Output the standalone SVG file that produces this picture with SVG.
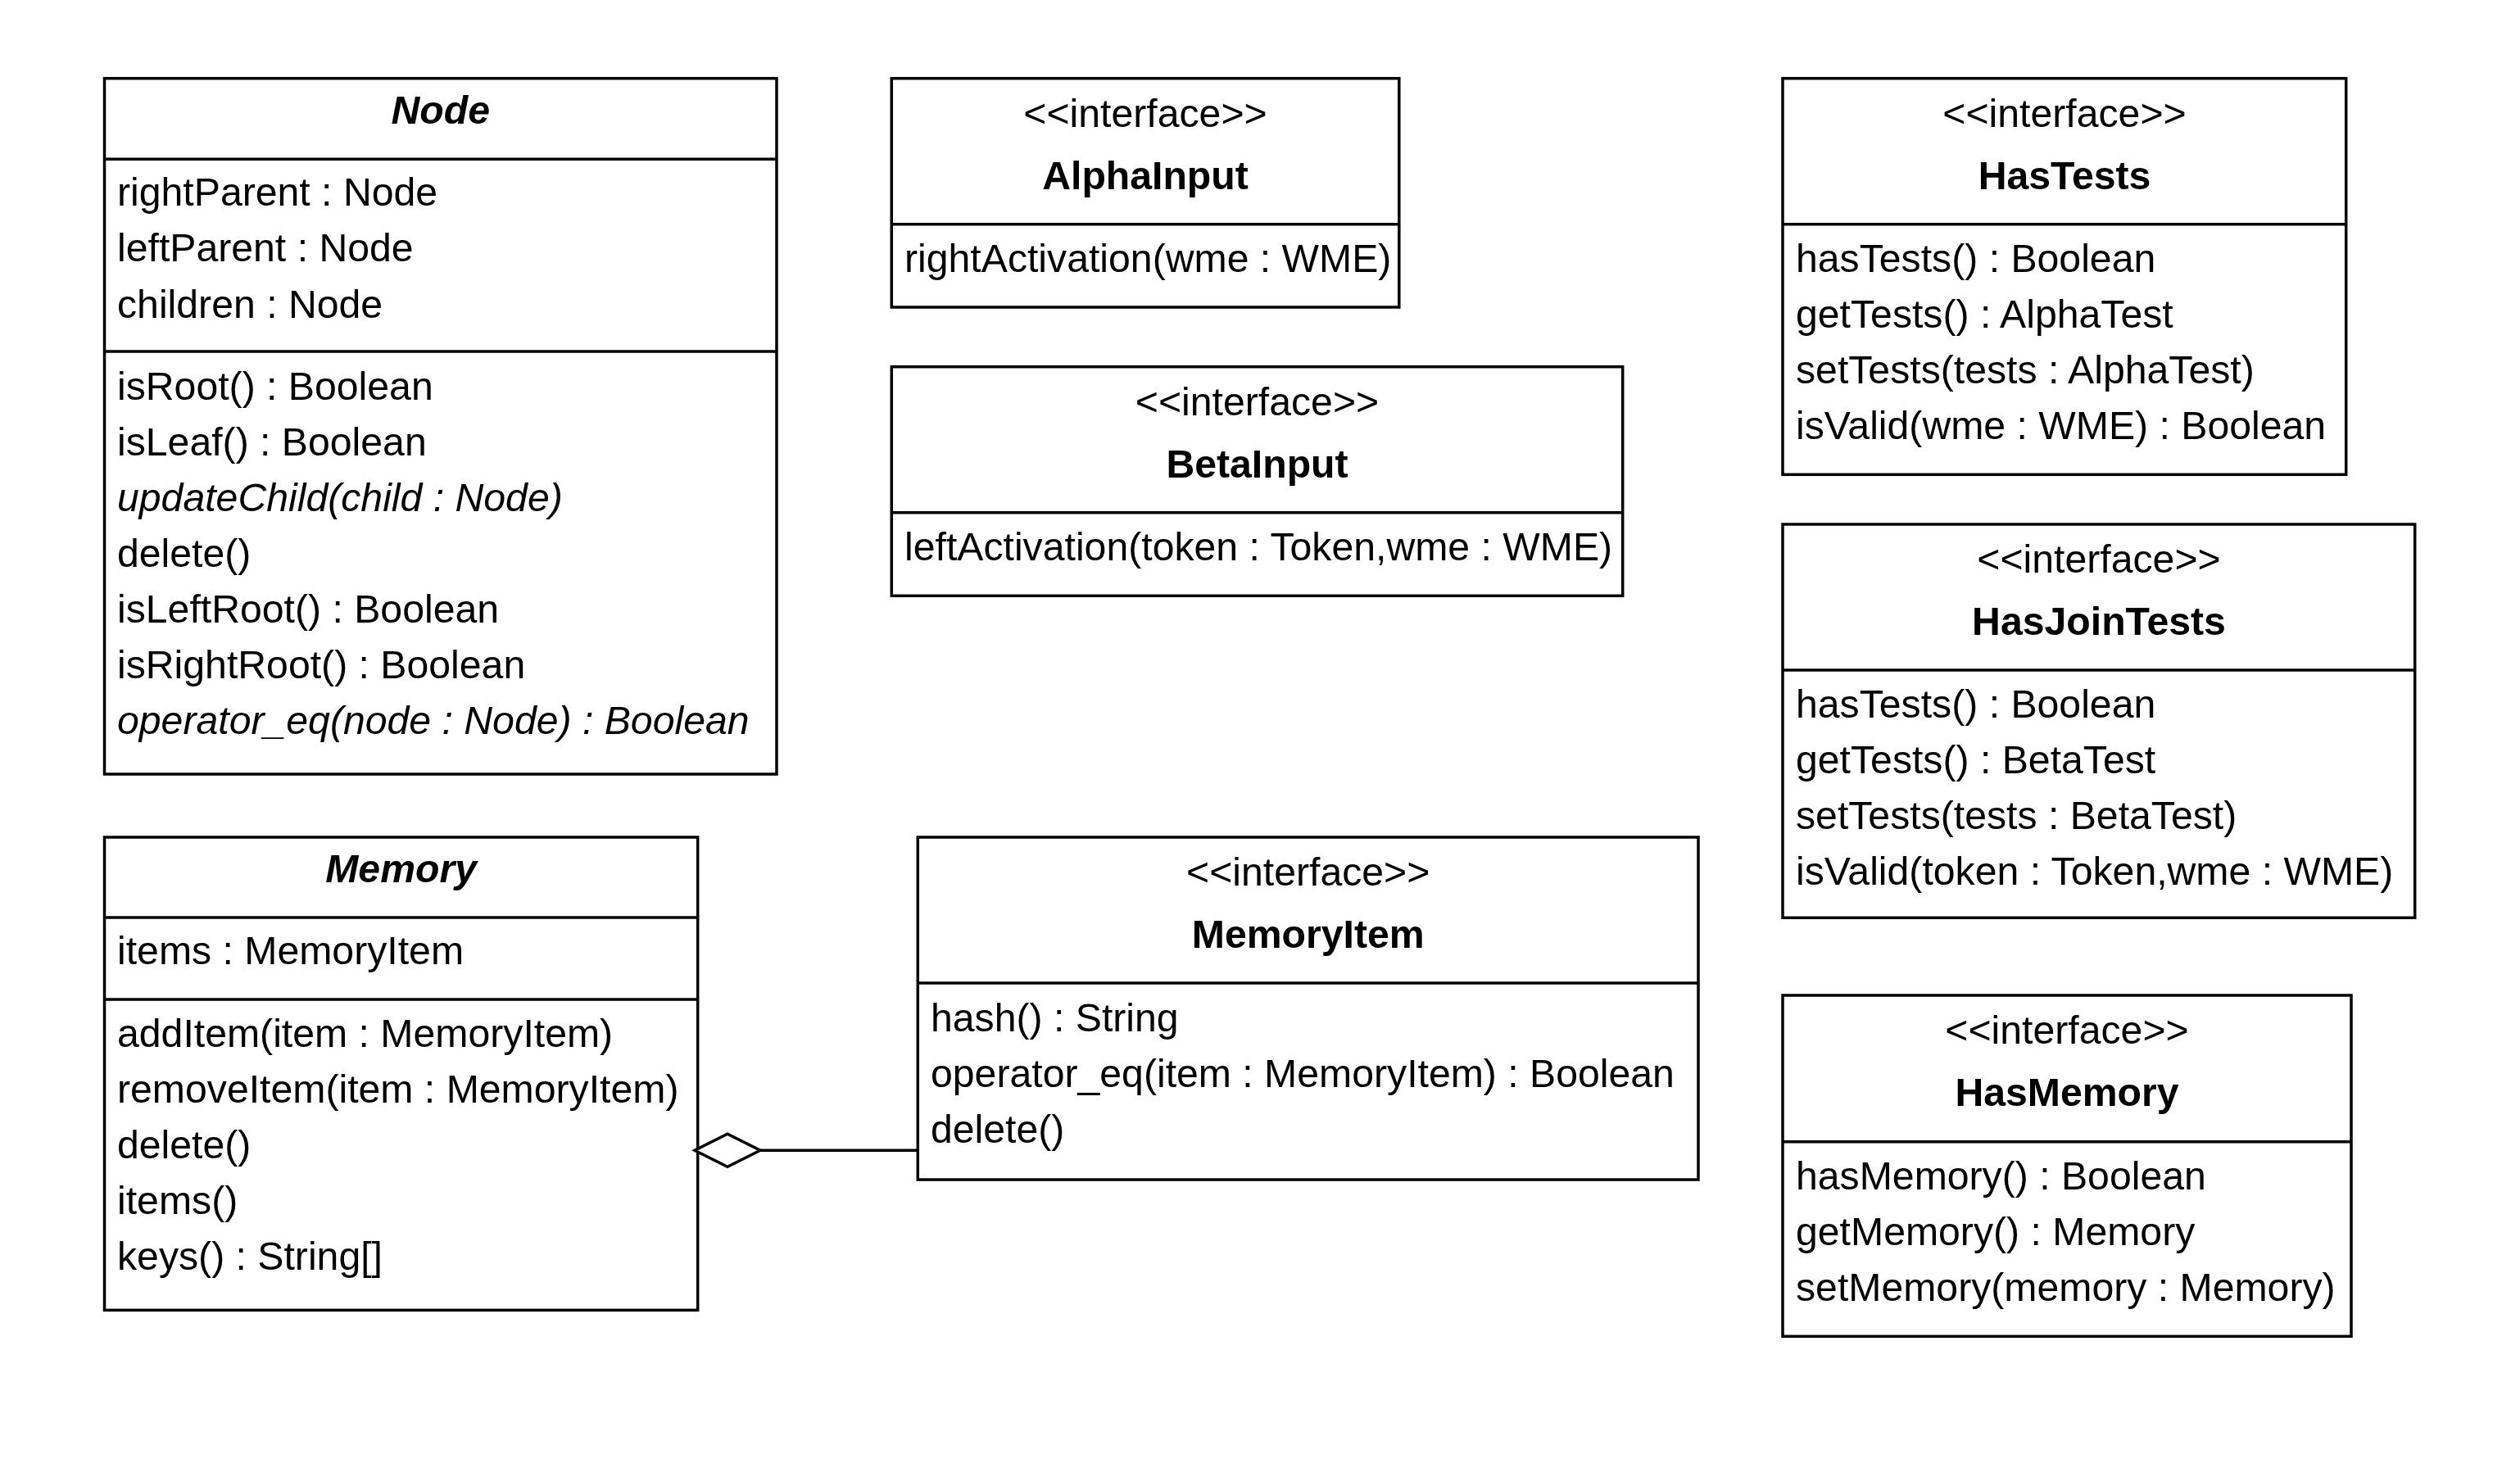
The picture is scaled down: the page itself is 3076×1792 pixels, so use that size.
<svg xmlns="http://www.w3.org/2000/svg" width="3076" height="1792" viewBox="0 0 3076 1792">
<style>
.box{fill:#fff;stroke:#000;stroke-width:3.5}
.sep{stroke:#000;stroke-width:3.5}
.conn{stroke:#000;stroke-width:3.5;fill:none}
text{font-family:"Liberation Sans",Arial,Helvetica,sans-serif;font-size:48.2px;fill:#000}
.c{text-anchor:middle}
.b{font-weight:bold}
.i{font-style:italic}
</style>
<defs>
<marker id="agg" markerUnits="userSpaceOnUse" markerWidth="88" markerHeight="48" viewBox="0 0 88 48" refX="84" refY="24" orient="auto">
<path d="M4,24 L44,4 L84,24 L44,44 Z" fill="#fff" stroke="#000" stroke-width="3.5"/>
</marker>
</defs>
<rect width="3076" height="1792" fill="#fff"/>

<g id="Node">
<rect class="box" x="127.5" y="95.7" width="820.5" height="849.3"/>
<line class="sep" x1="127.5" y1="194.3" x2="948" y2="194.3"/>
<line class="sep" x1="127.5" y1="429" x2="948" y2="429"/>
<text class="c b i" x="537.8" y="151">Node</text>
<text x="143" y="250.7">rightParent : Node</text>
<text x="143" y="319.2">leftParent : Node</text>
<text x="143" y="387.7">children : Node</text>
<text x="143" y="488">isRoot() : Boolean</text>
<text x="143" y="556">isLeaf() : Boolean</text>
<text class="i" x="143" y="624">updateChild(child : Node)</text>
<text x="143" y="692">delete()</text>
<text x="143" y="760">isLeftRoot() : Boolean</text>
<text x="143" y="828">isRightRoot() : Boolean</text>
<text class="i" x="143" y="896">operator_eq(node : Node) : Boolean</text>
</g>

<g id="AlphaInput">
<rect class="box" x="1088.3" y="95.7" width="619.5" height="279.3"/>
<line class="sep" x1="1088.3" y1="273.7" x2="1707.8" y2="273.7"/>
<text class="c" x="1398" y="155">&lt;&lt;interface&gt;&gt;</text>
<text class="c b" x="1398" y="231">AlphaInput</text>
<text x="1104" y="331.7">rightActivation(wme : WME)</text>
</g>

<g id="BetaInput">
<rect class="box" x="1088.3" y="447.7" width="892.4" height="279.6"/>
<line class="sep" x1="1088.3" y1="625.7" x2="1980.7" y2="625.7"/>
<text class="c" x="1534.5" y="507">&lt;&lt;interface&gt;&gt;</text>
<text class="c b" x="1534.5" y="583">BetaInput</text>
<text x="1104" y="683.7">leftActivation(token : Token,wme : WME)</text>
</g>

<g id="HasTests">
<rect class="box" x="2176" y="95.7" width="687.7" height="483.6"/>
<line class="sep" x1="2176" y1="273.7" x2="2863.7" y2="273.7"/>
<text class="c" x="2520" y="155">&lt;&lt;interface&gt;&gt;</text>
<text class="c b" x="2520" y="231">HasTests</text>
<text x="2192" y="331.7">hasTests() : Boolean</text>
<text x="2192" y="399.7">getTests() : AlphaTest</text>
<text x="2192" y="467.7">setTests(tests : AlphaTest)</text>
<text x="2192" y="535.7">isValid(wme : WME) : Boolean</text>
</g>

<g id="HasJoinTests">
<rect class="box" x="2176" y="640" width="771.7" height="480.3"/>
<line class="sep" x1="2176" y1="818" x2="2947.7" y2="818"/>
<text class="c" x="2562" y="699">&lt;&lt;interface&gt;&gt;</text>
<text class="c b" x="2562" y="775">HasJoinTests</text>
<text x="2192" y="876">hasTests() : Boolean</text>
<text x="2192" y="944">getTests() : BetaTest</text>
<text x="2192" y="1012">setTests(tests : BetaTest)</text>
<text x="2192" y="1080">isValid(token : Token,wme : WME)</text>
</g>

<g id="HasMemory">
<rect class="box" x="2176" y="1215" width="694" height="416.3"/>
<line class="sep" x1="2176" y1="1393.7" x2="2870" y2="1393.7"/>
<text class="c" x="2523" y="1274">&lt;&lt;interface&gt;&gt;</text>
<text class="c b" x="2523" y="1350">HasMemory</text>
<text x="2192" y="1451.7">hasMemory() : Boolean</text>
<text x="2192" y="1520">getMemory() : Memory</text>
<text x="2192" y="1588.3">setMemory(memory : Memory)</text>
</g>

<g id="Memory">
<rect class="box" x="127.5" y="1022" width="724.2" height="577.3"/>
<line class="sep" x1="127.5" y1="1120" x2="851.7" y2="1120"/>
<line class="sep" x1="127.5" y1="1220" x2="851.7" y2="1220"/>
<text class="c b i" x="489.6" y="1077">Memory</text>
<text x="143" y="1177">items : MemoryItem</text>
<text x="143" y="1278">addItem(item : MemoryItem)</text>
<text x="143" y="1346">removeItem(item : MemoryItem)</text>
<text x="143" y="1414">delete()</text>
<text x="143" y="1482">items()</text>
<text x="143" y="1550">keys() : String[]</text>
</g>

<g id="MemoryItem">
<rect class="box" x="1120.3" y="1022" width="952.7" height="418"/>
<line class="sep" x1="1120.3" y1="1200" x2="2073" y2="1200"/>
<text class="c" x="1596.7" y="1081">&lt;&lt;interface&gt;&gt;</text>
<text class="c b" x="1596.7" y="1157">MemoryItem</text>
<text x="1136" y="1259">hash() : String</text>
<text x="1136" y="1327">operator_eq(item : MemoryItem) : Boolean</text>
<text x="1136" y="1395">delete()</text>
</g>

<g id="connectors">
<line class="conn" x1="1120.3" y1="1404.3" x2="848" y2="1404.3" marker-end="url(#agg)"/>
</g>
</svg>
